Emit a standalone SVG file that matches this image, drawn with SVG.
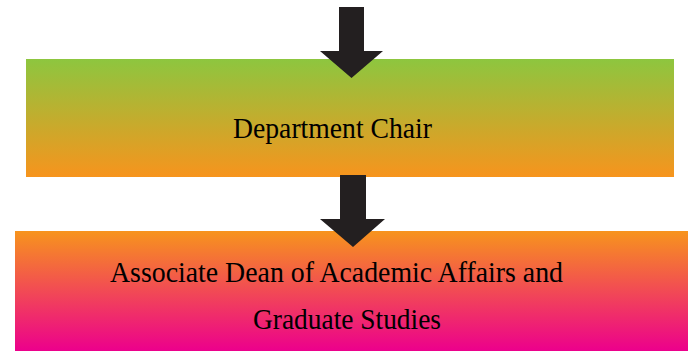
<svg xmlns="http://www.w3.org/2000/svg" width="688" height="352" viewBox="0 0 688 352">
<defs>
<linearGradient id="g1" x1="0" y1="0" x2="0" y2="1">
<stop offset="0" stop-color="#8dc63f"/>
<stop offset="1" stop-color="#f7941d"/>
</linearGradient>
<linearGradient id="g2" x1="0" y1="0" x2="0" y2="1">
<stop offset="0" stop-color="#f7941d"/>
<stop offset="1" stop-color="#ec008c"/>
</linearGradient>
<style>
.t{font-family:"Liberation Serif","Times New Roman",serif;font-size:29px;fill:#000}
.a{fill:#231f20}
</style>
</defs>
<rect width="688" height="352" fill="#fff"/>
<g id="node-chair">
<rect x="26" y="59" width="648" height="118" fill="url(#g1)"/>
<text class="t" x="233" y="138" textLength="199" lengthAdjust="spacingAndGlyphs">Department Chair</text>
</g>
<g id="node-dean">
<rect x="15" y="231" width="673" height="120" fill="url(#g2)"/>
<text class="t" x="110" y="282" textLength="453" lengthAdjust="spacingAndGlyphs">Associate Dean of Academic Affairs and</text>
<text class="t" x="253" y="329" textLength="188" lengthAdjust="spacingAndGlyphs">Graduate Studies</text>
</g>
<g id="connectors">
<polygon class="a" points="339,7 364,7 364,51 383,51 351.5,78 320,51 339,51"/>
<polygon class="a" points="340,175 366,175 366,219 385,219 353,247 320,219 340,219"/>
</g>
</svg>
